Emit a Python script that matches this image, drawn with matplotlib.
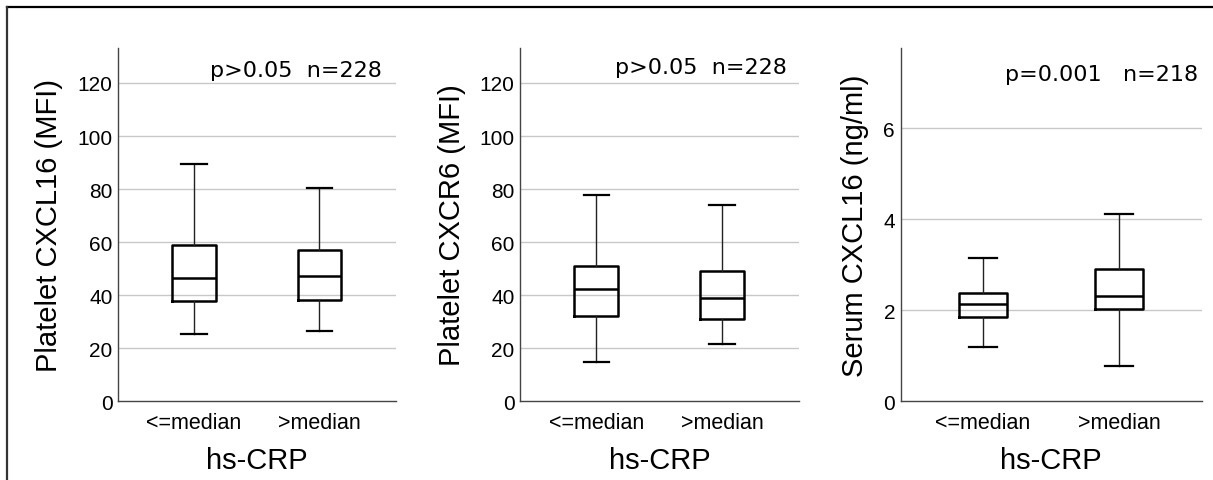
import matplotlib
matplotlib.use("Agg")
import matplotlib.pyplot as plt
from matplotlib.lines import Line2D

plt.rcParams["font.family"] = ["Liberation Sans", "DejaVu Sans"]

GROUPS = ["<=median", ">median"]
XLABEL = "hs-CRP"

# panel: Platelet CXCL16
cxcl16_lo = [25.4, 26.3]
cxcl16_q1 = [37.8, 38.1]
cxcl16_med = [46.5, 47.3]
cxcl16_q3 = [59.0, 56.8]
cxcl16_hi = [89.3, 80.2]

# panel: Platelet CXCR6
cxcr6_lo = [14.7, 21.6]
cxcr6_q1 = [32.1, 30.8]
cxcr6_med = [42.3, 39.0]
cxcr6_q3 = [50.8, 49.1]
cxcr6_hi = [77.7, 73.8]

# panel: Serum CXCL16
serum_lo = [1.18, 0.76]
serum_q1 = [1.84, 2.03]
serum_med = [2.14, 2.32]
serum_q3 = [2.38, 2.91]
serum_hi = [3.14, 4.11]

PANELS = [
    dict(ylabel="Platelet CXCL16 (MFI)", note="p>0.05  n=228",
         stats=(cxcl16_lo, cxcl16_q1, cxcl16_med, cxcl16_q3, cxcl16_hi),
         ticks=[0, 20, 40, 60, 80, 100, 120], ymax=133.2,
         rect=[0.0973, 0.1642, 0.2292, 0.7339], note_xy=(0.950, 0.921)),
    dict(ylabel="Platelet CXCR6 (MFI)", note="p>0.05  n=228",
         stats=(cxcr6_lo, cxcr6_q1, cxcr6_med, cxcr6_q3, cxcr6_hi),
         ticks=[0, 20, 40, 60, 80, 100, 120], ymax=133.2,
         rect=[0.4289, 0.1642, 0.2295, 0.7339], note_xy=(0.957, 0.929)),
    dict(ylabel="Serum CXCL16 (ng/ml)", note="p=0.001   n=218",
         stats=(serum_lo, serum_q1, serum_med, serum_q3, serum_hi),
         ticks=[0, 2, 4, 6], ymax=7.77,
         rect=[0.7425, 0.1642, 0.2484, 0.7339], note_xy=(0.986, 0.908)),
]


def make_stats(lo, q1, med, q3, hi):
    return [dict(whislo=a, q1=b, med=c, q3=d, whishi=e, fliers=[])
            for a, b, c, d, e in zip(lo, q1, med, q3, hi)]


fig = plt.figure(figsize=(12.13, 4.81), dpi=100)

for p in PANELS:
    ax = fig.add_axes(p["rect"])
    ax.bxp(make_stats(*p["stats"]), positions=[1, 2], widths=0.35,
           capwidths=0.2, showfliers=False,
           boxprops=dict(color="black", linewidth=1.8),
           medianprops=dict(color="black", linewidth=1.8),
           whiskerprops=dict(color="#222222", linewidth=1.0),
           capprops=dict(color="black", linewidth=1.6))
    ax.set_xlim(0.395, 2.61)
    ax.set_ylim(0, p["ymax"])
    ax.set_yticks(p["ticks"])
    ax.set_xticks([1, 2], GROUPS)
    for t in p["ticks"][1:]:
        ax.axhline(t, color="#c8c8c8", linewidth=1.0, zorder=0)
    for side in ["top", "right"]:
        ax.spines[side].set_visible(False)
    for side in ["left", "bottom"]:
        ax.spines[side].set_color("#444444")
        ax.spines[side].set_linewidth(1.0)
    ax.tick_params(axis="y", length=0, pad=4, labelsize=15)
    ax.tick_params(axis="x", length=0, pad=8, labelsize=15.5)
    ax.set_ylabel(p["ylabel"], fontsize=21, labelpad=10)
    ax.set_xlabel(XLABEL, fontsize=21, labelpad=9)
    ax.text(p["note_xy"][0], p["note_xy"][1], p["note"], transform=ax.transAxes,
            ha="right", va="baseline", fontsize=16, family="DejaVu Sans")

# outer frame (top and left edges only)
fig.add_artist(Line2D([0.0058, 1.0], [1 - 7.7 / 481, 1 - 7.7 / 481],
                      transform=fig.transFigure, color="black", linewidth=1.6))
fig.add_artist(Line2D([0.0058, 0.0058], [0.0, 1 - 7.7 / 481],
                      transform=fig.transFigure, color="#333333", linewidth=1.6))

fig.savefig("out.png", dpi=100)
